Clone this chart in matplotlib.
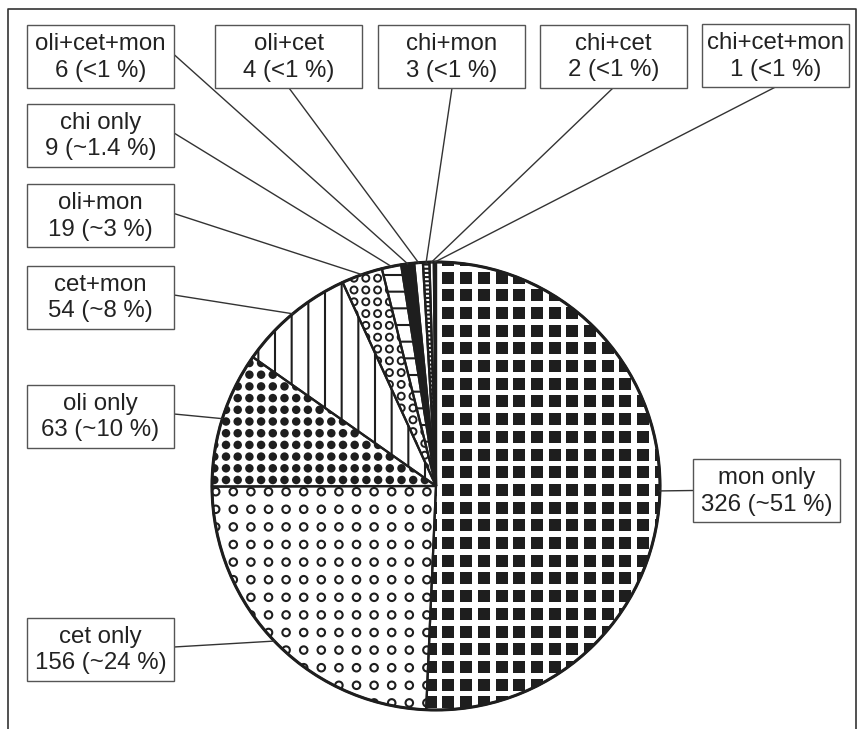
import numpy as np
import matplotlib.pyplot as plt
from matplotlib.patches import Rectangle, Circle
from matplotlib.collections import PatchCollection

plt.rcParams['font.family'] = ['Liberation Sans', 'DejaVu Sans']
plt.rcParams['hatch.linewidth'] = 1.5

categories = ['mon only', 'cet only', 'oli only', 'cet+mon', 'oli+mon', 'chi only',
              'oli+cet+mon', 'oli+cet', 'chi+mon', 'chi+cet', 'chi+cet+mon']
counts = [326, 156, 63, 54, 19, 9, 6, 4, 3, 2, 1]
pct_text = ['~51 %', '~24 %', '~10 %', '~8 %', '~3 %', '~1.4 %',
            '<1 %', '<1 %', '<1 %', '<1 %', '<1 %']

W, H = 857, 729
INK = '#1e1e1e'

# label box centres (pixels from top-left) and where the leader leaves the box
box_pos = {
    'mon only': (766.5, 490.5, 'left'),
    'cet only': (100.5, 649, 'right'),
    'oli only': (100.5, 416, 'right'),
    'cet+mon': (100.5, 297, 'right'),
    'oli+mon': (100.5, 215.5, 'right'),
    'chi only': (100.5, 135, 'right'),
    'oli+cet+mon': (100.5, 56.5, 'right'),
    'oli+cet': (289, 56.5, 'bottom'),
    'chi+mon': (452, 56.5, 'bottom'),
    'chi+cet': (613.5, 56, 'bottom'),
    'chi+cet+mon': (775.5, 55.5, 'bottom'),
}
BW, BH = 147, 63

fig = plt.figure(figsize=(W / 100, H / 100), dpi=100)
ax = fig.add_axes([0, 0, 1, 1])

cx, cy, R = 436, H - 486, 224
wedges, _ = ax.pie(counts, startangle=90, counterclock=False, center=(cx, cy), radius=R,
                   wedgeprops=dict(facecolor='none', edgecolor=INK, linewidth=1.6, zorder=3))
ax.set_xlim(0, W)
ax.set_ylim(0, H)
ax.set_aspect('equal')
ax.axis('off')


def grid_pattern(wedge, shape, pitch, size, anchor, ring=None):
    ax0, ay0 = anchor[0], H - anchor[1]
    xs = np.arange(ax0 - np.ceil((ax0 - (cx - R)) / pitch) * pitch, cx + R + pitch, pitch)
    ys = np.arange(ay0 - np.ceil((ay0 - (cy - R)) / pitch) * pitch, cy + R + pitch, pitch)
    patches = []
    for x in xs:
        for y in ys:
            if shape == 'square':
                patches.append(Rectangle((x - size / 2, y - size / 2), size, size))
            else:
                patches.append(Circle((x, y), size / 2))
    if ring:
        pc = PatchCollection(patches, facecolor='none', edgecolor=INK, linewidth=ring, zorder=2)
    else:
        pc = PatchCollection(patches, facecolor=INK, edgecolor='none', zorder=2)
    ax.add_collection(pc)
    pc.set_clip_path(wedge)


styles = {
    'mon only': ('square', 17.7, 12, (448.5, 277.5), None),
    'cet only': ('circle', 17.6, 7.5, (233.3, 509.3), 1.5),
    'oli only': ('circle', 11.7, 8.5, (226, 480), None),
    'oli+mon': ('circle', 11.8, 7, (354, 290), 1.4),
}
hatches = {'cet+mon': '|', 'chi only': '-', 'chi+mon': '----'}

for w, cat in zip(wedges, categories):
    if cat in styles:
        shape, pitch, size, anchor, ring = styles[cat]
        grid_pattern(w, shape, pitch, size, anchor, ring)
    elif cat in hatches:
        w.set_hatch(hatches[cat])
    elif cat == 'oli+cet+mon':
        w.set_facecolor(INK)

ax.add_patch(Circle((cx, cy), R, fill=False, edgecolor=INK, linewidth=2.2, zorder=4))

# labels with leader lines
for w, cat, n, pct in zip(wedges, categories, counts, pct_text):
    bx, by, side = box_pos[cat]
    by = H - by
    ax.add_patch(Rectangle((bx - BW / 2, by - BH / 2), BW, BH, facecolor='white',
                           edgecolor='#555555', linewidth=1.0, zorder=5))
    ax.text(bx, by - 1, f'{cat}\n{n} ({pct})', ha='center', va='center',
            fontsize=17.3, color='#222222', zorder=6, linespacing=1.25)
    ang = np.deg2rad((w.theta1 + w.theta2) / 2)
    ex, ey = cx + R * np.cos(ang), cy + R * np.sin(ang)
    if side == 'right':
        sx, sy = bx + BW / 2, by + 2
    elif side == 'left':
        sx, sy = bx - BW / 2, by
    else:
        sx, sy = bx, by - BH / 2
    ax.plot([sx, ex], [sy, ey], color='#333333', linewidth=1.0, zorder=4.5)

# outer frame of the figure
ax.plot([8, 8, 856, 856], [0, H - 9, H - 9, 0], color='#333333', linewidth=1.2)

fig.savefig('out.png', dpi=100)
